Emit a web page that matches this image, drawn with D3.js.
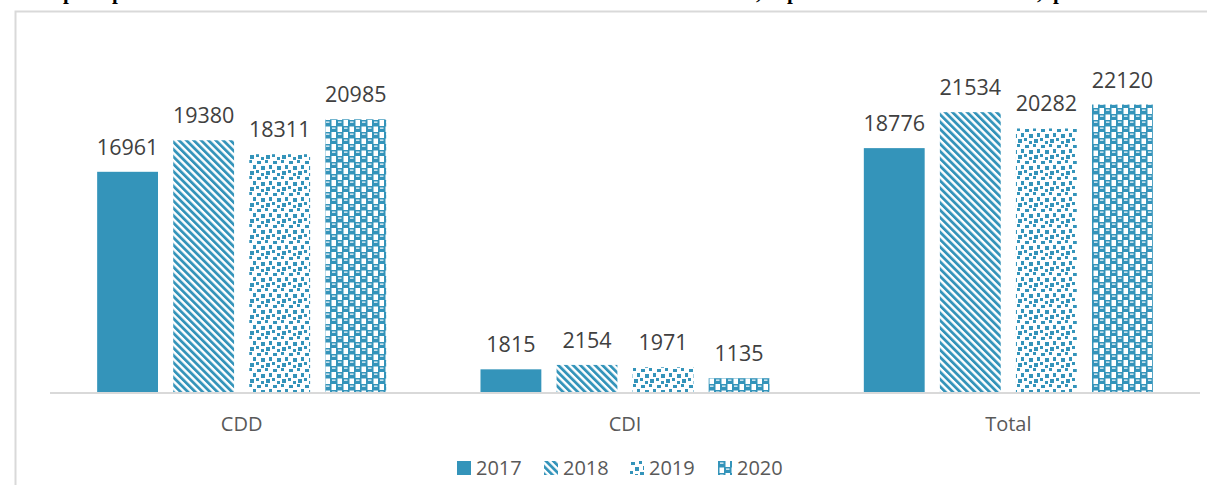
<!DOCTYPE html>
<html>
<head>
<meta charset="utf-8">
<script src="https://cdn.jsdelivr.net/npm/d3@7"></script>
<style>
  html, body { margin: 0; padding: 0; background: #fff; }
  svg { display: block; }
</style>
</head>
<body>
<svg id="chart" width="1207" height="485"></svg>
<script>
const categories = ["CDD", "CDI", "Total"];
const years = ["2017", "2018", "2019", "2020"];
const values = {
  "2017": [16961, 1815, 18776],
  "2018": [19380, 2154, 21534],
  "2019": [18311, 1971, 20282],
  "2020": [20985, 1135, 22120]
};
const titleFragments = ["p", "p", ",", "p", ",", "p"];
const titleFragmentX = [63, 112, 756, 787, 1037, 1053];

const blue = "#3494ba";
const svg = d3.select("#chart");
const defs = svg.append("defs");

// 2018: wide downward diagonal
const p18 = defs.append("pattern").attr("id", "pat2018")
  .attr("patternUnits", "userSpaceOnUse").attr("width", 5.2).attr("height", 5.2)
  .attr("patternTransform", "rotate(-45)");
p18.append("rect").attr("width", 5.2).attr("height", 5.2).attr("fill", "#fff");
p18.append("rect").attr("width", 2.8).attr("height", 5.2).attr("fill", blue);

// 2019: large confetti
const p19 = defs.append("pattern").attr("id", "pat2019")
  .attr("patternUnits", "userSpaceOnUse").attr("width", 16).attr("height", 16);
p19.append("rect").attr("width", 16).attr("height", 16).attr("fill", "#fff");
[[1,1,4,3],[9,0,3,3],[13,5,3,4],[5,6,4,4],[0,10,3,3],[10,11,4,4],[5,13,3,3]]
  .forEach(r => p19.append("rect").attr("x", r[0]).attr("y", r[1]).attr("width", r[2]).attr("height", r[3]).attr("fill", blue));

// 2020: sphere
const p20 = defs.append("pattern").attr("id", "pat2020")
  .attr("patternUnits", "userSpaceOnUse").attr("width", 12).attr("height", 12);
p20.append("rect").attr("width", 12).attr("height", 12).attr("fill", "#fff");
[[0,0],[6,6],[-6,6]].forEach(o => {
  p20.append("rect").attr("x", o[0]).attr("y", o[1]).attr("width", 7.5).attr("height", 6.5).attr("fill", blue);
  p20.append("rect").attr("x", o[0] + 2).attr("y", o[1] + 1.5).attr("width", 3.5).attr("height", 1.3).attr("fill", "#eef6fa");
});

const fills = { "2017": blue, "2018": "url(#pat2018)", "2019": "url(#pat2019)", "2020": "url(#pat2020)" };

// Title fragments (cut off at top)
svg.append("g").selectAll("text").data(titleFragments).join("text")
  .attr("x", (d, i) => titleFragmentX[i]).attr("y", -1)
  .attr("font-family", "Liberation Serif").attr("font-weight", "bold").attr("font-size", 21)
  .attr("fill", "#000").text(d => d);

// Chart border
svg.append("path").attr("d", "M15.5,485 V11.5 H1207")
  .attr("fill", "none").attr("stroke", "#d9d9d9").attr("stroke-width", 2);

const x0 = d3.scaleBand().domain(categories).range([50, 1200]);
const x1 = d3.scaleBand().domain(years).range([0, x0.bandwidth()]).paddingInner(0.2).paddingOuter(0.62);
const y = d3.scaleLinear().domain([0, 24000]).range([393, 80]);

const data = [];
years.forEach(yr => categories.forEach((c, i) => data.push({ year: yr, cat: c, v: values[yr][i] })));

svg.append("g").selectAll("rect").data(data).join("rect")
  .attr("x", d => x0(d.cat) + x1(d.year))
  .attr("y", d => y(d.v))
  .attr("width", x1.bandwidth())
  .attr("height", d => y(0) - y(d.v))
  .attr("fill", d => fills[d.year]);

svg.append("g").selectAll("text").data(data).join("text")
  .attr("x", d => x0(d.cat) + x1(d.year) + x1.bandwidth() / 2)
  .attr("y", d => y(d.v) - 17)
  .attr("text-anchor", "middle")
  .attr("font-family", "Open Sans").attr("font-size", 21.5).attr("fill", "#404040")
  .text(d => d.v);

// x axis
const xAxis = svg.append("g").attr("transform", "translate(0,393)")
  .call(d3.axisBottom(x0).tickSize(0).tickPadding(24));
xAxis.select(".domain").attr("stroke", "#d9d9d9").attr("stroke-width", 2).attr("d", "M50,0H1200");
xAxis.selectAll("text").attr("font-family", "Open Sans").attr("font-size", 20).attr("fill", "#595959").attr("dy", "0.71em");

// Legend
const legendX = [457, 544, 630, 718];
const lg = svg.append("g").selectAll("g").data(years).join("g")
  .attr("transform", (d, i) => `translate(${legendX[i]},461)`);
lg.append("rect").attr("width", 14).attr("height", 14).attr("fill", d => fills[d]);
lg.append("text").attr("x", 19).attr("y", 14).attr("font-family", "Open Sans").attr("font-size", 20)
  .attr("fill", "#595959").text(d => d);
</script>
</body>
</html>
